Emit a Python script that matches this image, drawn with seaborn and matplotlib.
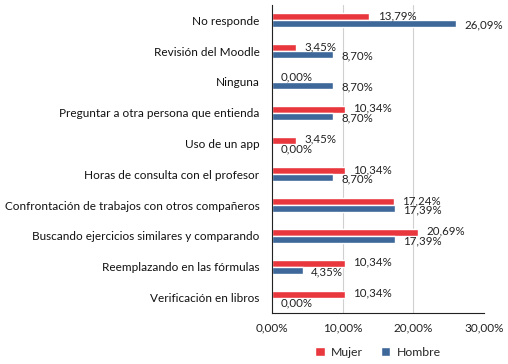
import matplotlib
matplotlib.use("Agg")
import matplotlib.pyplot as plt
import seaborn as sns
import pandas as pd
from matplotlib.ticker import FuncFormatter, FixedLocator

categorias = [
    "No responde",
    "Revisión del Moodle",
    "Ninguna",
    "Preguntar a otra persona que entienda",
    "Uso de un app",
    "Horas de consulta con el profesor",
    "Confrontación de trabajos con otros compañeros",
    "Buscando ejercicios similares y comparando",
    "Reemplazando en las fórmulas",
    "Verificación en libros",
]
mujer = [13.79, 3.45, 0.00, 10.34, 3.45, 10.34, 17.24, 20.69, 10.34, 10.34]
hombre = [26.09, 8.70, 8.70, 8.70, 0.00, 8.70, 17.39, 17.39, 4.35, 0.00]
series = ["Mujer", "Hombre"]
colores = ["#E8383D", "#3E679A"]
ticks = [0, 10, 20, 30]

sns.set_theme(style="white")
plt.rcParams["font.family"] = ["Lato", "DejaVu Sans"]

df = pd.DataFrame({
    "cat": categorias * 2,
    "valor": mujer + hombre,
    "serie": ["Mujer"] * len(categorias) + ["Hombre"] * len(categorias),
})

fig = plt.figure(figsize=(5.08, 3.64), dpi=100)
ax = fig.add_axes([272 / 508, 1 - 313 / 364, (484 - 272) / 508, (313 - 5) / 364])
sns.barplot(data=df, y="cat", x="valor", hue="serie", hue_order=series,
            palette=colores, order=categorias, orient="h", width=0.46,
            ax=ax, saturation=1, legend=True)

fmt = lambda v: f"{v:.2f}".replace(".", ",") + "%"
for ci, cont in enumerate(ax.containers):
    vals = mujer if ci == 0 else hombre
    dy = 0.8 if ci == 0 else -1.0
    for bar, v in zip(cont, vals):
        x = bar.get_x() + bar.get_width()
        y = bar.get_y() + bar.get_height() / 2
        ax.annotate(fmt(v), (x, y), xytext=(6, dy), textcoords="offset points",
                    ha="left", va="center", fontsize=8.3, color="#222222")

ax.set_xlim(0, 30)
ax.xaxis.set_major_locator(FixedLocator(ticks))
ax.xaxis.set_major_formatter(FuncFormatter(lambda v, p: f"{v:.2f}".replace(".", ",") + "%"))
ax.set_xlabel("")
ax.set_ylabel("")
ax.grid(axis="x", color="#D0D0D0", linewidth=0.8)
ax.set_axisbelow(True)
for s in ["top", "right"]:
    ax.spines[s].set_visible(False)
for s in ["left", "bottom"]:
    ax.spines[s].set_color("#222222")
    ax.spines[s].set_linewidth(0.8)
ax.tick_params(axis="x", labelsize=8.5, colors="#222222", length=0, pad=7)
ax.tick_params(axis="y", labelsize=8.5, colors="#111111", length=0, pad=9)

handles, labels = ax.get_legend_handles_labels()
ax.get_legend().remove()
fig.legend(handles, labels, loc="center", bbox_to_anchor=(378 / 508, 1 - 352 / 364),
           ncol=2, frameon=False, fontsize=8.8, handlelength=0.75, handleheight=0.75,
           columnspacing=1.5, handletextpad=0.5)

fig.canvas.draw()
ax.xaxis.get_gridlines()[-1].set_visible(False)
ax.xaxis.get_gridlines()[0].set_visible(False)

fig.savefig("out.png", dpi=100)
